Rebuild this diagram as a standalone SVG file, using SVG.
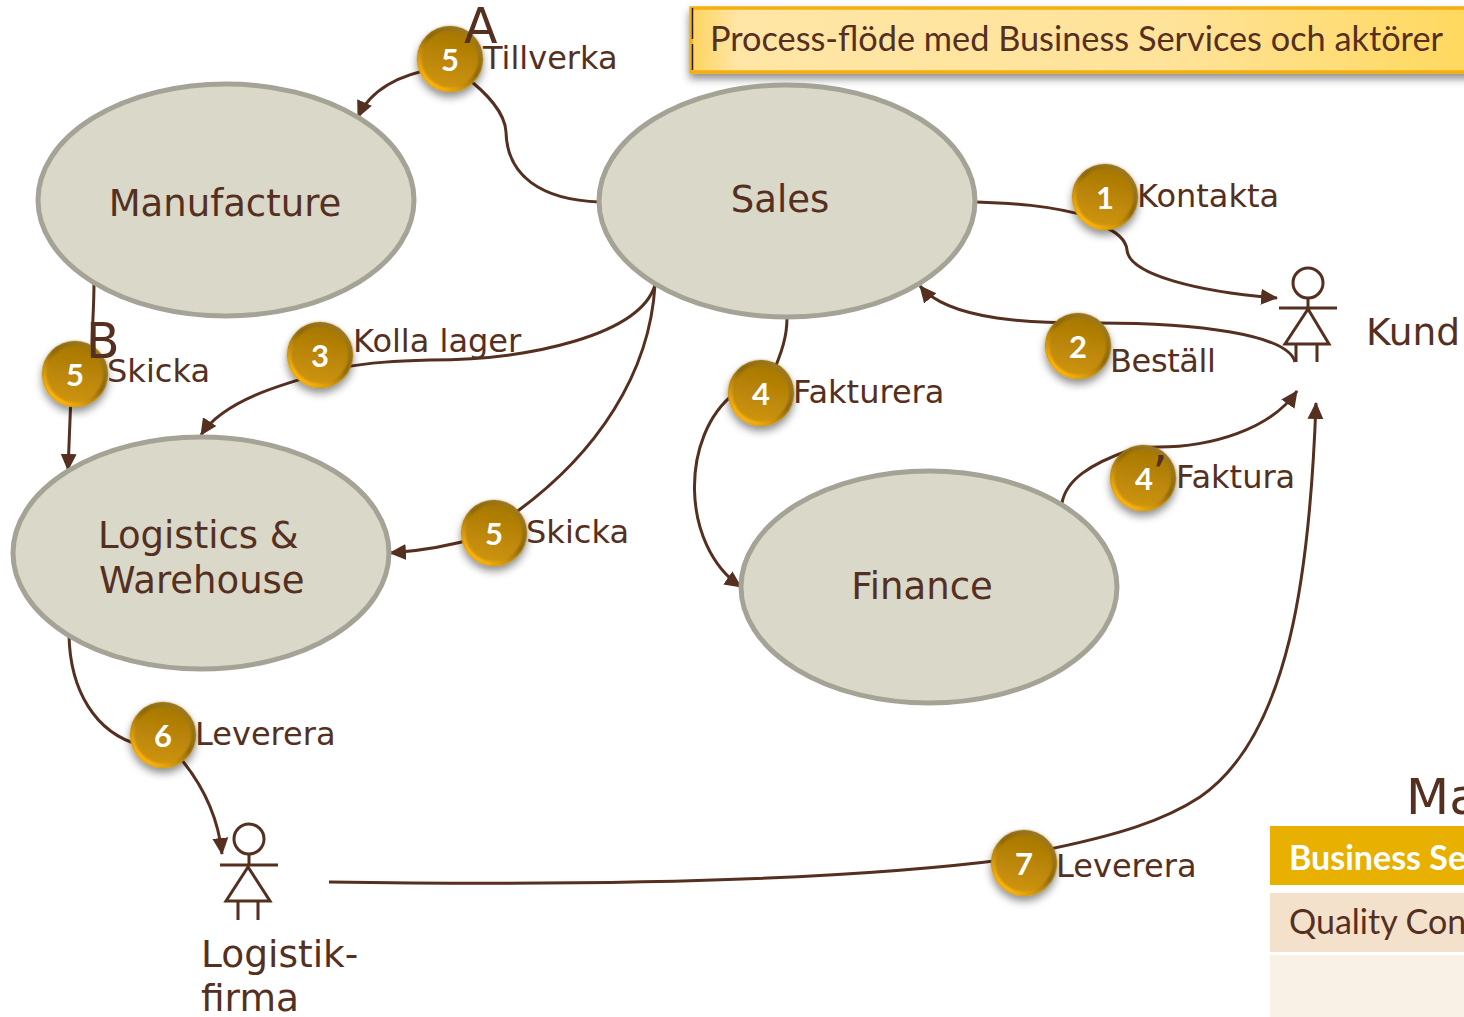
<svg xmlns="http://www.w3.org/2000/svg" width="1464" height="1017" viewBox="0 0 1464 1017">
<style>
.n{fill:#d9d8c9;stroke:#a5a396;stroke-width:5}
.t{font-family:"DejaVu Sans",Verdana,sans-serif;fill:#552f20}
.nt{font-size:37px}
.at{font-size:37.500px}
.l{font-size:32px}
.c{fill:none;stroke:#552f20;stroke-width:3;marker-end:url(#a)}
.f{fill:none;stroke:#552f20;stroke-width:3}
.b{fill:url(#bg);filter:url(#sh)}
.bi{fill:none;stroke:url(#rim);stroke-width:4;filter:url(#bl)}
.bt{font-family:Lato,"Noto Sans",sans-serif;font-weight:bold;font-size:31px;fill:#fff;text-anchor:middle}
.cal{font-family:Lato,"Noto Sans",sans-serif}
</style>
<defs>
<marker id="a" markerUnits="userSpaceOnUse" markerWidth="18" markerHeight="18" refX="16" refY="9" orient="auto"><path d="M0 1L17 9L0 17Z" fill="#552f20"/></marker>
<linearGradient id="bg" x1="0.6" y1="0" x2="0.4" y2="1"><stop offset="0" stop-color="#a37505"/><stop offset="0.55" stop-color="#bd8707"/><stop offset="1" stop-color="#d09608"/></linearGradient>
<linearGradient id="rim" x1="0.85" y1="0.1" x2="0.2" y2="0.9"><stop offset="0" stop-color="#9a7a2a"/><stop offset="0.45" stop-color="#8a6508"/><stop offset="0.65" stop-color="#b88407"/><stop offset="1" stop-color="#ffb50c"/></linearGradient>
<linearGradient id="tb" x1="0" y1="0" x2="1" y2="0"><stop offset="0" stop-color="#ffd35f"/><stop offset="0.06" stop-color="#ffe6a6"/><stop offset="0.6" stop-color="#ffe39a"/><stop offset="1" stop-color="#ffd85c"/></linearGradient>
<filter id="sh" x="-30%" y="-30%" width="160%" height="170%"><feDropShadow dx="0" dy="5" stdDeviation="4" flood-color="#000" flood-opacity="0.45"/></filter>
<filter id="bl" x="-10%" y="-10%" width="120%" height="120%"><feGaussianBlur stdDeviation="0.8"/></filter>
</defs>

<g id="title">
<rect x="691" y="8" width="790" height="64" fill="url(#tb)" stroke="#f4ae0a" stroke-width="3.500" filter="url(#sh)"/>
<path d="M692.500 8V39M692.500 44V70" stroke="#2a1a08" stroke-width="1.500"/>
<text class="t cal" x="710" y="51" font-size="34" textLength="733" lengthAdjust="spacingAndGlyphs" style="font-family:Lato,'Noto Sans',sans-serif">Process-flöde med Business Services och aktörer</text>
</g>

<g id="connectors">
<path class="c" d="M600 202C540 200 507 175 506 132C505 112 487 93 462 74M435 69C400 74 370 90 358 117"/>
<path class="c" d="M94 282C94 310 92 325 92 350M71 395L68 470"/>
<path class="c" d="M655 285C640 335 530 360 430 360C400 361 370 362 340 368C290 382 225 398 201 435"/>
<path class="c" d="M655 285C650 370 600 455 505 520M480 537C450 546 420 551 390 553"/>
<path class="c" d="M787 318C787 335 783 350 770 380M735 393C680 435 680 545 741 587"/>
<path class="c" d="M976 202C1010 203 1050 205 1090 217M1100 225C1118 232 1126 240 1127 250C1129 275 1200 292 1277 298"/>
<path class="c" d="M1295 362C1288 335 1200 322 1085 323C1040 323 950 322 920 286"/>
<path class="c" d="M1062 503C1066 480 1090 464 1130 450C1140 447 1150 447 1158 447C1210 447 1270 430 1297 391"/>
<path class="c" d="M69 635C70 690 95 733 140 745M175 752C200 780 218 815 222 854"/>
<path class="c" d="M329 882C600 886 850 880 1010 859M1040 851C1120 835 1165 820 1200 797C1290 735 1310 570 1316 403"/>
</g>

<g id="manufacture"><ellipse class="n" cx="226" cy="200" rx="188" ry="116"/><text class="t nt" x="225" y="216" text-anchor="middle">Manufacture</text></g>
<g id="sales"><ellipse class="n" cx="787" cy="201" rx="188" ry="116"/><text class="t nt" x="780" y="212" text-anchor="middle">Sales</text></g>
<g id="logistics"><ellipse class="n" cx="201" cy="553" rx="188" ry="116"/><text class="t nt" x="98" y="548">Logistics &amp;</text><text class="t nt" x="99" y="593">Warehouse</text></g>
<g id="finance"><ellipse class="n" cx="929" cy="587" rx="188" ry="116"/><text class="t nt" x="922" y="599" text-anchor="middle">Finance</text></g>

<g id="kund">
<g class="f"><circle cx="1308" cy="283" r="15"/><path d="M1308 298V308M1279 308H1337M1308 309L1285 344H1329ZM1296 344V362M1317 344V362"/></g>
<text class="t at" x="1366" y="345">Kund</text>
</g>
<g id="logistikfirma">
<g class="f"><circle cx="249" cy="839" r="15"/><path d="M249 854V865M220 865H278M248 867L226 901H270ZM238 901V920M258 901V920"/></g>
<text class="t at" x="201" y="967">Logistik-</text>
<text class="t at" x="201" y="1011">firma</text>
</g>

<g id="b5a"><circle class="b" cx="450" cy="59" r="33"/><circle class="bi" cx="450" cy="59" r="30.500"/><text class="bt" x="450" y="71">5</text></g>
<g id="b1"><circle class="b" cx="1105" cy="197" r="33"/><circle class="bi" cx="1105" cy="197" r="30.500"/><text class="bt" x="1105" y="209">1</text></g>
<g id="b2"><circle class="b" cx="1078" cy="346" r="33"/><circle class="bi" cx="1078" cy="346" r="30.500"/><text class="bt" x="1078" y="358">2</text></g>
<g id="b3"><circle class="b" cx="320" cy="355" r="33"/><circle class="bi" cx="320" cy="355" r="30.500"/><text class="bt" x="320" y="367">3</text></g>
<g id="b4"><circle class="b" cx="761" cy="393" r="33"/><circle class="bi" cx="761" cy="393" r="30.500"/><text class="bt" x="761" y="405">4</text></g>
<g id="b4p"><circle class="b" cx="1143" cy="478" r="33"/><circle class="bi" cx="1143" cy="478" r="30.500"/><text class="bt" x="1144" y="490">4</text><text class="t" x="1152" y="491" font-size="50">’</text></g>
<g id="b5b"><circle class="b" cx="75" cy="374" r="33"/><circle class="bi" cx="75" cy="374" r="30.500"/><text class="bt" x="75" y="386">5</text></g>
<g id="b5c"><circle class="b" cx="494" cy="533" r="33"/><circle class="bi" cx="494" cy="533" r="30.500"/><text class="bt" x="494" y="545">5</text></g>
<g id="b6"><circle class="b" cx="163" cy="735" r="33"/><circle class="bi" cx="163" cy="735" r="30.500"/><text class="bt" x="163" y="747">6</text></g>
<g id="b7"><circle class="b" cx="1024" cy="863" r="33"/><circle class="bi" cx="1024" cy="863" r="30.500"/><text class="bt" x="1024" y="875">7</text></g>

<g id="labels">
<text class="t" x="464" y="43" font-size="49">A</text>
<text class="t" x="86" y="358" font-size="49">B</text>
<text class="t l" x="483" y="69">Tillverka</text>
<text class="t l" x="1137" y="207">Kontakta</text>
<text class="t l" x="1110" y="372" textLength="106">Beställ</text>
<text class="t l" x="353" y="352">Kolla lager</text>
<text class="t l" x="793" y="403">Fakturera</text>
<text class="t l" x="1176" y="488">Faktura</text>
<text class="t l" x="107" y="382" textLength="103">Skicka</text>
<text class="t l" x="526" y="543" textLength="103">Skicka</text>
<text class="t l" x="195" y="745">Leverera</text>
<text class="t l" x="1056" y="877">Leverera</text>
</g>

<g id="table">
<text class="t" x="1406" y="814" font-size="50">Ma</text>
<rect x="1270" y="826" width="200" height="59" fill="#e8b000"/>
<rect x="1270" y="893" width="200" height="59" fill="#f4e1cb"/>
<rect x="1270" y="955" width="200" height="62" fill="#f9f0e6"/>
<text x="1289" y="870" font-size="34" font-weight="bold" fill="#fff" style="font-family:Lato,'Noto Sans',sans-serif">Business Se</text>
<text x="1289" y="934" font-size="34" fill="#552f20" style="font-family:Lato,'Noto Sans',sans-serif">Quality Con</text>
</g>
</svg>
